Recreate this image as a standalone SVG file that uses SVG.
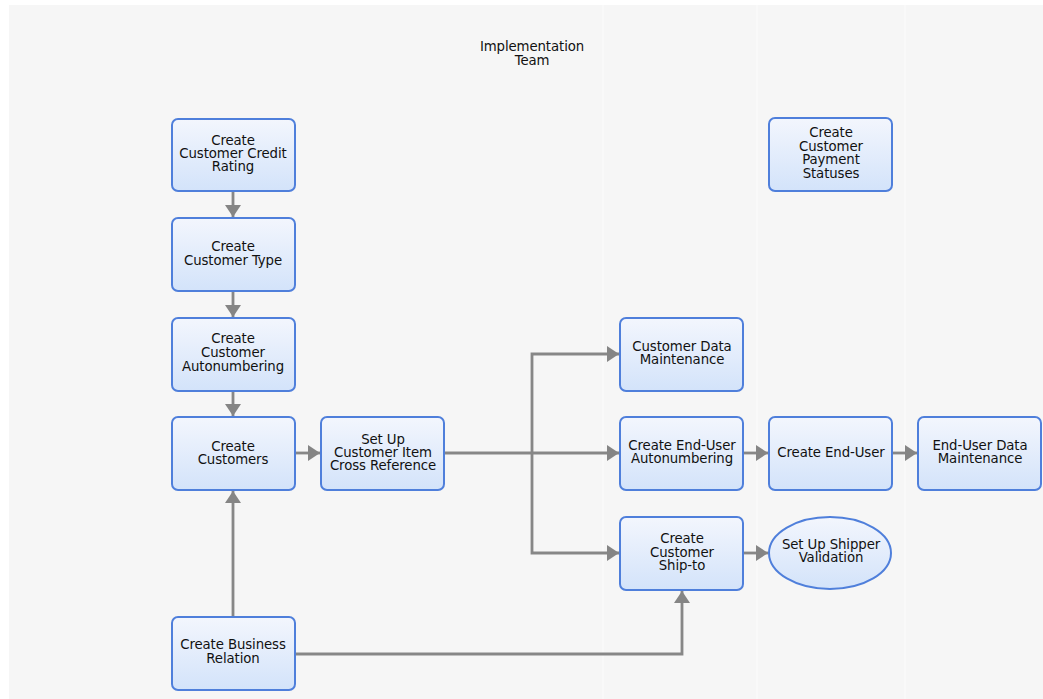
<svg xmlns="http://www.w3.org/2000/svg" width="1043" height="699" viewBox="0 0 1043 699">
<defs>
<linearGradient id="g" x1="0" y1="0" x2="0" y2="1">
<stop offset="0" stop-color="#f3f6fd"/>
<stop offset="1" stop-color="#d3e3fa"/>
</linearGradient>
<marker id="ah" markerUnits="userSpaceOnUse" markerWidth="14" markerHeight="18" refX="12" refY="9" orient="auto">
<path d="M0,1 L12,9 L0,17 z" fill="#858585"/>
</marker>
</defs>
<style>
.n{fill:url(#g);stroke:#4f7fdb;stroke-width:2}
.t{font-family:"DejaVu Sans",sans-serif;font-size:13.3px;fill:#111;text-anchor:middle;letter-spacing:-0.1px}
.c{fill:none;stroke:#878787;stroke-width:2.8;marker-end:url(#ah)}
.lane{stroke:#fafafa;stroke-width:1.5}
</style>
<rect x="0" y="0" width="1043" height="699" fill="#ffffff"/>
<rect x="9" y="5" width="1034" height="694" fill="#f6f6f6"/>
<line class="lane" x1="603" y1="5" x2="603" y2="699"/>
<line class="lane" x1="757" y1="5" x2="757" y2="699"/>
<line class="lane" x1="905" y1="5" x2="905" y2="699"/>
<g id="title"><text class="t" x="532" y="51">Implementation</text><text class="t" x="532" y="65">Team</text></g>
<g id="connectors">
<line class="c" x1="233" y1="192" x2="233" y2="217"/>
<line class="c" x1="233" y1="292" x2="233" y2="317"/>
<line class="c" x1="233" y1="392" x2="233" y2="416"/>
<line class="c" x1="296" y1="453" x2="320" y2="453"/>
<line class="c" x1="445" y1="453" x2="619" y2="453"/>
<polyline class="c" points="532,453 532,354 619,354"/>
<polyline class="c" points="532,453 532,553 619,553"/>
<line class="c" x1="744" y1="453" x2="768" y2="453"/>
<line class="c" x1="893" y1="453" x2="917" y2="453"/>
<line class="c" x1="744" y1="553" x2="768" y2="553"/>
<line class="c" x1="233" y1="616" x2="233" y2="491"/>
<polyline class="c" points="296,654 682,654 682,591"/>
</g>
<g id="n1"><rect class="n" x="172" y="119" width="123" height="72" rx="6"/><text class="t" x="233" y="145">Create</text><text class="t" x="233" y="158">Customer Credit</text><text class="t" x="233" y="171">Rating</text></g>
<g id="n2"><rect class="n" x="172" y="218" width="123" height="73" rx="6"/><text class="t" x="233" y="251">Create</text><text class="t" x="233" y="265">Customer Type</text></g>
<g id="n3"><rect class="n" x="172" y="318" width="123" height="73" rx="6"/><text class="t" x="233" y="343">Create</text><text class="t" x="233" y="357">Customer</text><text class="t" x="233" y="371">Autonumbering</text></g>
<g id="n4"><rect class="n" x="172" y="417" width="123" height="73" rx="6"/><text class="t" x="233" y="451">Create</text><text class="t" x="233" y="464">Customers</text></g>
<g id="n5"><rect class="n" x="321" y="417" width="123" height="73" rx="6"/><text class="t" x="383" y="444">Set Up</text><text class="t" x="383" y="457">Customer Item</text><text class="t" x="383" y="470">Cross Reference</text></g>
<g id="n6"><rect class="n" x="620" y="318" width="123" height="73" rx="6"/><text class="t" x="682" y="351">Customer Data</text><text class="t" x="682" y="364">Maintenance</text></g>
<g id="n7"><rect class="n" x="620" y="417" width="123" height="73" rx="6"/><text class="t" x="682" y="450">Create End-User</text><text class="t" x="682" y="463">Autonumbering</text></g>
<g id="n8"><rect class="n" x="769" y="417" width="123" height="73" rx="6"/><text class="t" x="831" y="457">Create End-User</text></g>
<g id="n9"><rect class="n" x="918" y="417" width="123" height="73" rx="6"/><text class="t" x="980" y="450">End-User Data</text><text class="t" x="980" y="463">Maintenance</text></g>
<g id="n10"><rect class="n" x="620" y="517" width="123" height="73" rx="6"/><text class="t" x="682" y="543">Create</text><text class="t" x="682" y="557">Customer</text><text class="t" x="682" y="570">Ship-to</text></g>
<g id="n11"><ellipse class="n" cx="830" cy="553" rx="61" ry="36"/><text class="t" x="831" y="549">Set Up Shipper</text><text class="t" x="831" y="562">Validation</text></g>
<g id="n12"><rect class="n" x="769" y="118" width="123" height="73" rx="6"/><text class="t" x="831" y="137">Create</text><text class="t" x="831" y="151">Customer</text><text class="t" x="831" y="164">Payment</text><text class="t" x="831" y="178">Statuses</text></g>
<g id="n13"><rect class="n" x="172" y="617" width="123" height="73" rx="6"/><text class="t" x="233" y="649">Create Business</text><text class="t" x="233" y="663">Relation</text></g>
</svg>
